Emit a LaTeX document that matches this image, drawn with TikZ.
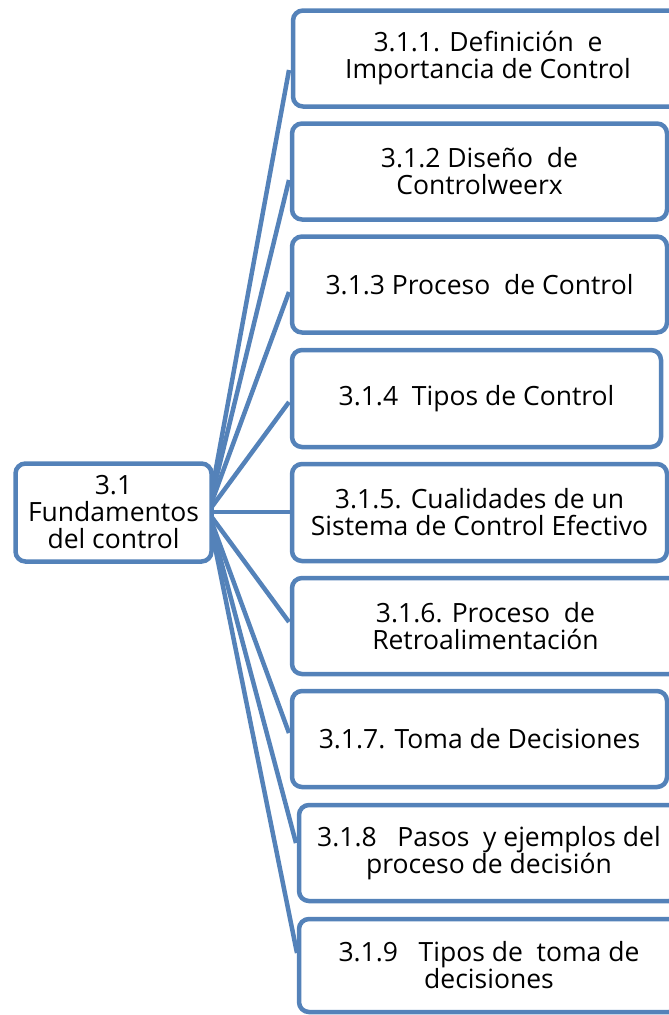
\documentclass[tikz,border=0pt]{standalone}
\usepackage{fontspec}
\setmainfont{Open Sans}
\usetikzlibrary{backgrounds}
\definecolor{boxblue}{RGB}{84,130,185}
\begin{document}
\begin{tikzpicture}[x=1pt,y=-1pt,
  box/.style={draw=boxblue,line width=4.5pt,rounded corners=10pt,fill=white,
    align=center,inner sep=0pt,font=\fontsize{26.5}{27}\selectfont},
  conn/.style={draw=boxblue,line width=4.5pt}]
\useasboundingbox (0,0) rectangle (669,1015);
\node[box,minimum width=196pt,minimum height=98pt] (c) at (113.5,512.5) {3.1\\Fundamentos\\del control};
\node[box,minimum width=390pt,minimum height=96pt] (b1) at (488,58.5) {3.1.1. Definición~ e\\Importancia de Control};
\node[box,minimum width=375pt,minimum height=96pt] (b2) at (479.5,171.5) {3.1.2 Diseño~ de\\Controlweerx};
\node[box,minimum width=375pt,minimum height=96pt] (b3) at (479.5,284.5) {3.1.3 Proceso~ de Control};
\node[box,minimum width=369pt,minimum height=97pt] (b4) at (476.5,398.5) {3.1.4~ Tipos de Control};
\node[box,minimum width=375pt,minimum height=97pt] (b5) at (479.5,512.5) {3.1.5. Cualidades de un\\Sistema de Control Efectivo};
\node[box,minimum width=387pt,minimum height=96pt] (b6) at (485.5,626) {3.1.6. Proceso~ de\\Retroalimentación};
\node[box,minimum width=375pt,minimum height=96pt] (b7) at (479.5,739) {3.1.7. Toma de Decisiones};
\node[box,minimum width=380pt,minimum height=96pt] (b8) at (489,853) {3.1.8~~ Pasos~ y ejemplos del\\proceso de decisión};
\node[box,minimum width=380pt,minimum height=93pt] (b9) at (489,965.5) {3.1.9~~ Tipos de~ toma de\\decisiones};
\coordinate (hub) at (208,512);
\coordinate (e1) at (289,70);
\coordinate (e2) at (289,180);
\coordinate (e3) at (289,292);
\coordinate (e4) at (289,402);
\coordinate (e5) at (292,512);
\coordinate (e6) at (289,622);
\coordinate (e7) at (289,733);
\coordinate (e8) at (296,843);
\coordinate (e9) at (297,953);
\begin{pgfonlayer}{background}
\foreach \i in {1,...,9} \draw[conn] (hub) -- (e\i);
\end{pgfonlayer}
\end{tikzpicture}
\end{document}
